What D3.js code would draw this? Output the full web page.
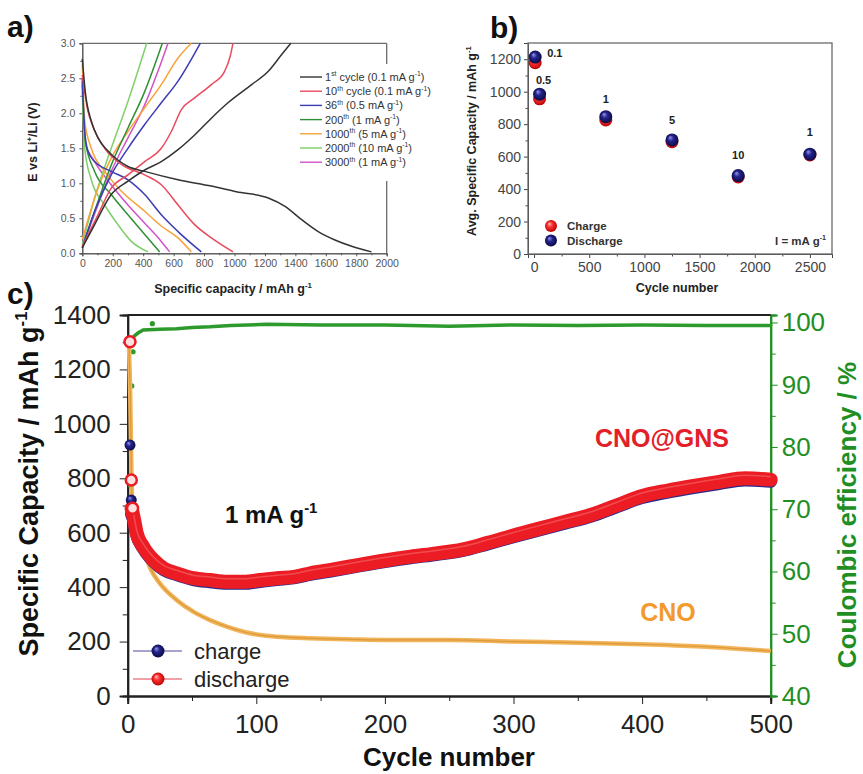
<!DOCTYPE html>
<html>
<head>
<meta charset="utf-8"/>
<script src="https://cdn.jsdelivr.net/npm/d3@7"></script>
<title>CNO@GNS electrochemistry</title>
<style>
body { margin: 0; background: #fff; }
svg { display: block; font-family: Arial, "Liberation Sans", sans-serif; }
</style>
</head>
<body>
<svg width="863" height="774"></svg>
<script>
// ---- panel a: voltage profiles, [capacity mAh/g, E / V]
var dis1 = [[0,2.78],[20,2.3],[59,1.89],[103,1.65],[169,1.46],[300,1.24],[410,1.17],[629,1.05],[848,0.96],[1012,0.88],[1222,0.79],[1332,0.67],[1441,0.48],[1550,0.31],[1660,0.19],[1770,0.10],[1900,0.02]];
var chg1 = [[0,0.08],[81,0.41],[190,0.84],[300,1.03],[410,1.19],[519,1.31],[629,1.48],[738,1.69],[848,1.93],[957,2.15],[1113,2.41],[1222,2.6],[1310,2.84],[1370,3.0]];
var dis10 = [[0,2.55],[37,2.03],[70,1.81],[147,1.5],[256,1.27],[410,1.12],[519,0.98],[629,0.69],[738,0.41],[848,0.22],[990,0.02]];
var chg10 = [[0,0.1],[103,0.55],[190,0.93],[300,1.12],[410,1.31],[519,1.5],[585,1.74],[650,2.05],[738,2.22],[848,2.41],[935,2.6],[970,2.8],[990,3.0]];
var dis36 = [[0,2.5],[16,1.74],[37,1.46],[81,1.31],[190,1.17],[300,1.05],[410,0.84],[519,0.55],[629,0.31],[782,0.02]];
var chg36 = [[0,0.08],[81,0.6],[190,1.12],[300,1.5],[410,1.84],[519,2.15],[629,2.46],[775,3.0]];
var dis200 = [[0,2.45],[20,1.6],[81,1.17],[190,0.84],[300,0.55],[410,0.27],[508,0.02]];
var chg200 = [[0,0.08],[103,0.74],[190,1.26],[300,1.79],[410,2.31],[526,3.0]];
var dis1000 = [[0,2.7],[16,1.89],[59,1.5],[147,1.17],[256,0.89],[410,0.6],[519,0.39],[629,0.22],[716,0.02]];
var chg1000 = [[0,0.2],[103,0.93],[190,1.36],[300,1.74],[410,2.08],[519,2.41],[629,2.79],[716,3.0]];
var dis2000 = [[0,2.3],[16,1.5],[59,1.05],[147,0.69],[234,0.41],[322,0.17],[432,0.02]];
var chg2000 = [[0,0.12],[81,0.79],[190,1.5],[300,2.17],[423,3.0]];
var dis3000 = [[0,2.4],[16,1.6],[81,1.31],[190,0.98],[300,0.69],[410,0.43],[519,0.17],[574,0.02]];
var chg3000 = [[0,0.08],[103,0.69],[190,1.17],[300,1.65],[410,2.12],[497,2.6],[563,3.0]];

var profileOrd = ["1", "10", "36", "200", "1000", "2000", "3000"];
var profileSup = ["st", "th", "th", "th", "th", "th", "th"];
var profileRate = ["0.1", "0.1", "0.5", "1", "5", "10", "1"];
var profileColor = ["#333333", "#ea4a5e", "#3c3cb4", "#2f8f34", "#f7a33a", "#7fcf6a", "#d253c9"];
var profileDis = [dis1, dis10, dis36, dis200, dis1000, dis2000, dis3000];
var profileChg = [chg1, chg10, chg36, chg200, chg1000, chg2000, chg3000];

// ---- panel b: average capacity per rate step
var rateCycle = [10, 50, 650, 1250, 1850, 2500];
var rateLabel = ["0.1", "0.5", "1", "5", "10", "1"];
var avgCharge = [1179, 956, 826, 692, 475, 610];
var avgDischarge = [1213, 985, 846, 703, 483, 615];

// ---- panel c: long cycling at 1 mA/g
var firstCycles = [1, 2, 3];
var firstDischarge = [1302, 794, 690];
var firstCharge = [922, 720, 668];
var bandCycle = [3,5,7,12,20,28,38,51,64,77,90,103,116,129,142,160,180,200,220,240,260,280,300,320,340,360,380,400,420,440,460,480,500];
var bandDischarge = [690,647,598,549,500,469,451,433,426,420,420,426,433,438,451,465,482,498,512,524,538,563,590,615,640,665,700,735,755,772,787,800,795];
var bandCharge = [668,640,592,544,495,464,446,428,420,414,414,421,428,434,447,461,478,494,508,520,534,559,585,610,635,660,695,729,749,766,781,794,789];
var cnoCycle = [1,2,3,4,6,8,12,18,25,38,51,64,77,90,103,116,142,175,200,250,300,350,400,450,480,500];
var cnoCapacity = [1290,1100,800,660,610,575,537,465,414,353,310,279,255,236,224,218,212,208,206,206,200,196,190,181,172,165];
var ceCycle = [4,5,8,12,25,38,50,64,80,108,150,200,250,300,350,400,450,500];
var ceValue = [97.4,97.8,98.3,98.8,98.9,99.0,99.2,99.3,99.5,99.7,99.6,99.6,99.4,99.6,99.5,99.6,99.5,99.5];
var ceDotCycle = [1, 2, 3, 18];
var ceDotValue = [73.8, 89.8, 95.3, 99.8];

var svg = d3.select("svg");
var intFmt = d3.format("d");

// gradients for the shaded ball markers
var defs = svg.append("defs");
function ball(id, c0, c1, c2) {
  var g = defs.append("radialGradient").attr("id", id)
    .attr("cx", "50%").attr("cy", "50%").attr("r", "55%").attr("fx", "35%").attr("fy", "30%");
  g.append("stop").attr("offset", "0%").attr("stop-color", c0);
  g.append("stop").attr("offset", "40%").attr("stop-color", c1);
  g.append("stop").attr("offset", "100%").attr("stop-color", c2);
}
ball("ballRed", "#ffc0c0", "#ff3030", "#b00000");
ball("ballBlue", "#9a9ae8", "#24248e", "#08083c");

// text with superscripts: parts = [[text, isSup], ...]
function rich(t, parts, fs) {
  var shift = 0;
  parts.forEach(function(p) {
    var up = p[1] ? -fs * 0.42 : 0;
    t.append("tspan").attr("dy", up - shift).attr("font-size", p[1] ? fs * 0.62 : fs).text(p[0]);
    shift = up;
  });
  return t;
}

function styleAxis(g, color, fs) {
  g.selectAll("path, line").attr("stroke", color);
  g.selectAll("text").attr("fill", color).attr("font-size", fs);
}

function label(x, y, txt) {
  svg.append("text").attr("x", x).attr("y", y).attr("font-size", 30)
    .attr("font-weight", "bold").attr("fill", "#111").text(txt);
}
label(7, 37, "a)");
label(490, 38, "b)");
label(7, 304, "c)");

// ================= panel a =================
var xa = d3.scaleLinear().domain([0, 2000]).range([82.3, 386.7]);
var ya = d3.scaleLinear().domain([0, 3]).range([253.3, 43.3]);
var grey = "#6a6a6a";

var ga = svg.append("g");
ga.append("g").attr("transform", "translate(0,253.3)")
  .call(d3.axisBottom(xa).tickValues(d3.range(0, 2001, 200)).tickSize(3).tickPadding(3).tickFormat(intFmt))
  .call(styleAxis, "#555", 10.5);
ga.append("g").attr("transform", "translate(0,253.3)")
  .call(d3.axisBottom(xa).tickValues(d3.range(100, 2000, 200)).tickSize(2).tickFormat(""))
  .call(styleAxis, "#555", 10.5);
ga.append("g").attr("transform", "translate(82.3,0)")
  .call(d3.axisLeft(ya).tickValues(d3.range(0, 3.01, 0.5)).tickSize(3).tickPadding(4).tickFormat(d3.format(".1f")))
  .call(styleAxis, "#555", 10.5);
ga.append("g").attr("transform", "translate(82.3,0)")
  .call(d3.axisLeft(ya).tickValues(d3.range(0.25, 3, 0.5)).tickSize(2).tickFormat(""))
  .call(styleAxis, "#555", 10.5);
ga.append("line").attr("x1", 82.3).attr("x2", 386.7).attr("y1", 43.3).attr("y2", 43.3).attr("stroke", grey).attr("stroke-width", 1.3);
ga.append("line").attr("x1", 386.7).attr("x2", 386.7).attr("y1", 43.3).attr("y2", 253.3).attr("stroke", grey).attr("stroke-width", 1.3);

var lineA = d3.line().x(function(d) { return xa(d[0]); }).y(function(d) { return ya(d[1]); }).curve(d3.curveMonotoneX);
for (var i = profileDis.length - 1; i >= 0; i--) {
  [profileDis[i], profileChg[i]].forEach(function(s) {
    ga.append("path").datum(s).attr("d", lineA).attr("fill", "none")
      .attr("stroke", profileColor[i]).attr("stroke-width", 1.5);
  });
}

// legend a
ga.append("rect").attr("x", 296).attr("y", 64).attr("width", 142).attr("height", 117).attr("fill", "#fff");
profileOrd.forEach(function(o, i) {
  var y = 77 + i * 14.2;
  ga.append("line").attr("x1", 300).attr("x2", 322).attr("y1", y).attr("y2", y)
    .attr("stroke", profileColor[i]).attr("stroke-width", 1.4);
  var parts = [[o, false], [profileSup[i], true], [(i < 2 ? " cycle" : "") + " (" + profileRate[i] + " mA g", false], ["-1", true], [")", false]];
  rich(ga.append("text").attr("x", 325).attr("y", y + 4).attr("fill", "#333").attr("font-size", 11), parts, 11);
});

rich(svg.append("text").attr("x", 233).attr("y", 293).attr("text-anchor", "middle")
  .attr("font-weight", "bold").attr("fill", "#222"), [["Specific capacity / mAh g", false], ["-1", true]], 12.5);
rich(svg.append("text").attr("transform", "translate(37,142) rotate(-90)").attr("text-anchor", "middle")
  .attr("font-weight", "bold").attr("fill", "#222"), [["E vs Li", false], ["+", true], ["/Li (V)", false]], 12.5);

// ================= panel b =================
var xb = d3.scaleLinear().domain([-55, 2700]).range([528, 832]);
var yb = d3.scaleLinear().domain([0, 1300]).range([254, 43]);
var gb = svg.append("g");
gb.append("g").attr("transform", "translate(0,254)")
  .call(d3.axisBottom(xb).tickValues(d3.range(0, 2501, 500)).tickSize(4).tickPadding(4).tickFormat(intFmt))
  .call(styleAxis, "#444", 14);
gb.append("g").attr("transform", "translate(0,254)")
  .call(d3.axisBottom(xb).tickValues(d3.range(250, 2700, 500)).tickSize(2.5).tickFormat(""))
  .call(styleAxis, "#444", 14);
gb.append("g").attr("transform", "translate(528,0)")
  .call(d3.axisLeft(yb).tickValues(d3.range(0, 1201, 200)).tickSize(4).tickPadding(3).tickFormat(intFmt))
  .call(styleAxis, "#444", 14);
gb.append("g").attr("transform", "translate(528,0)")
  .call(d3.axisLeft(yb).tickValues(d3.range(100, 1300, 200)).tickSize(2.5).tickFormat(""))
  .call(styleAxis, "#444", 14);
gb.append("rect").attr("x", 528).attr("y", 43).attr("width", 304).attr("height", 211)
  .attr("fill", "none").attr("stroke", grey).attr("stroke-width", 1.3);

gb.selectAll(".chg").data(rateCycle).enter().append("circle")
  .attr("cx", function(d) { return xb(d); })
  .attr("cy", function(d, i) { return yb(avgCharge[i]); })
  .attr("r", 6.5).attr("fill", "url(#ballRed)");
gb.selectAll(".dis").data(rateCycle).enter().append("circle")
  .attr("cx", function(d) { return xb(d); })
  .attr("cy", function(d, i) { return yb(avgDischarge[i]); })
  .attr("r", 6.5).attr("fill", "url(#ballBlue)");
var rateDx = [12, 4, 0, 0, 0, 0];
var rateDy = [0, -10, -14, -16, -17, -18];
gb.selectAll(".rl").data(rateLabel).enter().append("text")
  .attr("x", function(d, i) { return xb(rateCycle[i]) + rateDx[i]; })
  .attr("y", function(d, i) { return yb(avgDischarge[i]) + rateDy[i]; })
  .attr("text-anchor", function(d, i) { return i == 0 ? "start" : "middle"; })
  .attr("font-size", 11).attr("font-weight", "bold").attr("fill", "#222")
  .text(function(d) { return d; });

gb.append("circle").attr("cx", 551).attr("cy", 226).attr("r", 6).attr("fill", "url(#ballRed)");
gb.append("circle").attr("cx", 551).attr("cy", 240.5).attr("r", 6).attr("fill", "url(#ballBlue)");
gb.append("text").attr("x", 567).attr("y", 230).attr("font-size", 11.5).attr("font-weight", "bold").attr("fill", "#333").text("Charge");
gb.append("text").attr("x", 567).attr("y", 244.5).attr("font-size", 11.5).attr("font-weight", "bold").attr("fill", "#333").text("Discharge");
rich(gb.append("text").attr("x", 826).attr("y", 244.5).attr("text-anchor", "end").attr("font-weight", "bold").attr("fill", "#333"),
  [["I = mA g", false], ["-1", true]], 11.5);

svg.append("text").attr("x", 677).attr("y", 292).attr("text-anchor", "middle")
  .attr("font-size", 12.5).attr("font-weight", "bold").attr("fill", "#222").text("Cycle number");
rich(svg.append("text").attr("transform", "translate(476,141) rotate(-90)").attr("text-anchor", "middle")
  .attr("font-weight", "bold").attr("fill", "#222"), [["Avg. Specific Capacity / mAh g", false], ["-1", true]], 12.5);

// ================= panel c =================
var xc = d3.scaleLinear().domain([0, 500]).range([127.7, 770.7]);
var yc = d3.scaleLinear().domain([0, 1400]).range([696, 315]);
var yce = d3.scaleLinear().domain([40, 101.2]).range([696, 315]);
var green = "#1f8f24";
var gc = svg.append("g");

gc.append("g").attr("transform", "translate(0,696)")
  .call(d3.axisBottom(xc).tickValues(d3.range(0, 501, 100)).tickSize(8).tickPadding(11).tickFormat(intFmt))
  .call(styleAxis, "#222", 26);
gc.append("g").attr("transform", "translate(0,696)")
  .call(d3.axisBottom(xc).tickValues(d3.range(50, 500, 100)).tickSize(5).tickFormat(""))
  .call(styleAxis, "#222", 26);
gc.append("g").attr("transform", "translate(127.7,0)")
  .call(d3.axisLeft(yc).tickValues(d3.range(0, 1401, 200)).tickSize(8).tickPadding(9).tickFormat(intFmt))
  .call(styleAxis, "#222", 26);
gc.append("g").attr("transform", "translate(127.7,0)")
  .call(d3.axisLeft(yc).tickValues(d3.range(100, 1400, 200)).tickSize(5).tickFormat(""))
  .call(styleAxis, "#222", 26);
gc.append("g").attr("transform", "translate(770.7,0)")
  .call(d3.axisRight(yce).tickValues(d3.range(40, 101, 10)).tickSize(7).tickPadding(4).tickFormat(intFmt))
  .call(styleAxis, green, 26);
gc.append("g").attr("transform", "translate(770.7,0)")
  .call(d3.axisRight(yce).tickValues(d3.range(45, 100, 10)).tickSize(5).tickFormat(""))
  .call(styleAxis, green, 26);
gc.selectAll(".domain").attr("stroke-width", 2);
gc.append("line").attr("x1", 127.7).attr("x2", 770.7).attr("y1", 315).attr("y2", 315)
  .attr("stroke", "#222").attr("stroke-width", 2);

var lineCE = d3.line().x(function(d, i) { return xc(d); }).y(function(d, i) { return yce(ceValue[i]); });
gc.append("path").datum(ceCycle).attr("d", lineCE).attr("fill", "none")
  .attr("stroke", "#2c9a2c").attr("stroke-width", 3.5).attr("stroke-linecap", "round");
gc.selectAll(".ced").data(ceDotCycle).enter().append("circle")
  .attr("cx", function(d) { return xc(d) + 1.5; })
  .attr("cy", function(d, i) { return yce(ceDotValue[i]); })
  .attr("r", 2.6).attr("fill", "#2c9a2c");

var lineCNO = d3.line().x(function(d) { return xc(d); })
  .y(function(d, i) { return yc(cnoCapacity[i]); }).curve(d3.curveMonotoneX);
gc.append("path").datum(cnoCycle).attr("d", lineCNO).attr("fill", "none")
  .attr("stroke", "#f3b45a").attr("stroke-width", 4.5);
gc.append("path").datum(cnoCycle).attr("d", lineCNO).attr("fill", "none")
  .attr("stroke", "#d99a3a").attr("stroke-width", 1.2);

var lineChg = d3.line().x(function(d) { return xc(d); })
  .y(function(d, i) { return yc(bandCharge[i]); }).curve(d3.curveMonotoneX);
var lineDis = d3.line().x(function(d) { return xc(d); })
  .y(function(d, i) { return yc(bandDischarge[i]); }).curve(d3.curveMonotoneX);
gc.append("path").datum(bandCycle).attr("d", lineChg).attr("fill", "none")
  .attr("stroke", "#2a2a8c").attr("stroke-width", 13).attr("stroke-linecap", "round");
gc.append("path").datum(bandCycle).attr("d", lineDis).attr("fill", "none")
  .attr("stroke", "#ec1c24").attr("stroke-width", 14).attr("stroke-linecap", "round");
gc.append("path").datum(bandCycle).attr("d", lineDis).attr("fill", "none")
  .attr("transform", "translate(0,-3)")
  .attr("stroke", "#f46a6a").attr("stroke-width", 1.5).attr("opacity", 0.6);

gc.selectAll(".fc").data(firstCycles.slice(0, 2)).enter().append("circle")
  .attr("cx", function(d) { return xc(d) + 1; })
  .attr("cy", function(d, i) { return yc(firstCharge[i]); })
  .attr("r", 5.5).attr("fill", "url(#ballBlue)");
gc.selectAll(".fd").data(firstCycles).enter().append("circle")
  .attr("cx", function(d) { return xc(d) + 1; })
  .attr("cy", function(d, i) { return yc(firstDischarge[i]); })
  .attr("r", 5.5).attr("fill", "#fde0e0").attr("stroke", "#ec1c24").attr("stroke-width", 2.5);

// legend c
gc.append("line").attr("x1", 133).attr("x2", 182).attr("y1", 651).attr("y2", 651).attr("stroke", "#4a4aa0").attr("stroke-width", 1);
gc.append("circle").attr("cx", 158).attr("cy", 651).attr("r", 6.5).attr("fill", "url(#ballBlue)");
gc.append("line").attr("x1", 133).attr("x2", 182).attr("y1", 679).attr("y2", 679).attr("stroke", "#e84050").attr("stroke-width", 1);
gc.append("circle").attr("cx", 158).attr("cy", 679).attr("r", 6.5).attr("fill", "url(#ballRed)");
gc.append("text").attr("x", 194).attr("y", 659).attr("font-size", 22).attr("fill", "#222").text("charge");
gc.append("text").attr("x", 194).attr("y", 687).attr("font-size", 22).attr("fill", "#222").text("discharge");

rich(gc.append("text").attr("x", 225).attr("y", 523).attr("font-weight", "bold").attr("fill", "#111"),
  [["1 mA g", false], ["-1", true]], 24);
gc.append("text").attr("x", 662).attr("y", 447).attr("text-anchor", "middle").attr("font-size", 25)
  .attr("font-weight", "bold").attr("fill", "#e3202a").text("CNO@GNS");
gc.append("text").attr("x", 668).attr("y", 621).attr("text-anchor", "middle").attr("font-size", 25)
  .attr("font-weight", "bold").attr("fill", "#f39a2e").text("CNO");

svg.append("text").attr("x", 449).attr("y", 766).attr("text-anchor", "middle")
  .attr("font-size", 26).attr("font-weight", "bold").attr("fill", "#111").text("Cycle number");
rich(svg.append("text").attr("transform", "translate(38,484) rotate(-90)").attr("text-anchor", "middle")
  .attr("font-weight", "bold").attr("fill", "#111"), [["Specific Capacity / mAh g", false], ["-1", true]], 27);
svg.append("text").attr("transform", "translate(856,515) rotate(-90)").attr("text-anchor", "middle")
  .attr("font-size", 26).attr("font-weight", "bold").attr("fill", green).text("Coulombic efficiency / %");
</script>
</body>
</html>
